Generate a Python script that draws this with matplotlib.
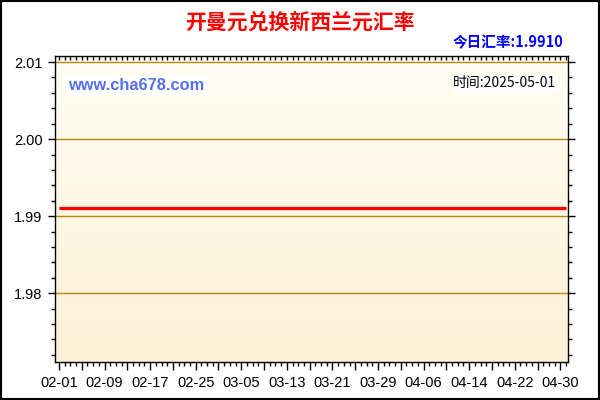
import numpy as np
import pandas as pd
import matplotlib
matplotlib.use('Agg')
import matplotlib.pyplot as plt
from matplotlib.patches import Rectangle

# daily OMR -> NZD rate, 2025-02-01 .. 2025-05-01
dates = pd.date_range('2025-02-01', '2025-05-01', freq='D')
rates = [
    1.991, 1.991, 1.991, 1.991, 1.991, 1.991, 1.991, 1.991, 1.991, 1.991,
    1.991, 1.991, 1.991, 1.991, 1.991, 1.991, 1.991, 1.991, 1.991, 1.991,
    1.991, 1.991, 1.991, 1.991, 1.991, 1.991, 1.991, 1.991, 1.991, 1.991,
    1.991, 1.991, 1.991, 1.991, 1.991, 1.991, 1.991, 1.991, 1.991, 1.991,
    1.991, 1.991, 1.991, 1.991, 1.991, 1.991, 1.991, 1.991, 1.991, 1.991,
    1.991, 1.991, 1.991, 1.991, 1.991, 1.991, 1.991, 1.991, 1.991, 1.991,
    1.991, 1.991, 1.991, 1.991, 1.991, 1.991, 1.991, 1.991, 1.991, 1.991,
    1.991, 1.991, 1.991, 1.991, 1.991, 1.991, 1.991, 1.991, 1.991, 1.991,
    1.991, 1.991, 1.991, 1.991, 1.991, 1.991, 1.991, 1.991, 1.991, 1.991,
]
y_ticks = [1.98, 1.99, 2.00, 2.01]
title = '开曼元兑换新西兰元汇率'
today_rate = '今日汇率:1.9910'
stamp = '时间:2025-05-01'
site = 'www.cha678.com'

cjk = ['Noto Sans CJK SC', 'DejaVu Sans']
plt.rcParams['font.family'] = ['Liberation Sans', 'DejaVu Sans']

fig = plt.figure(figsize=(6, 4), dpi=100)
ax = fig.add_axes([55 / 600, 38 / 400, 513 / 600, 306 / 400])

x = np.arange(len(dates))

# background gradient, light at the top
grad = np.linspace(0, 1, 256).reshape(-1, 1)
cmap = matplotlib.colors.LinearSegmentedColormap.from_list('bg', ['#fdf0d6', '#fffef4'])
ax.imshow(grad, cmap=cmap, aspect='auto', extent=[0, 1, 0, 1], origin='lower',
          transform=ax.transAxes, zorder=0)

for v in y_ticks:
    ax.axhline(v, color='#b8860b', lw=1, zorder=1)

ax.plot(x, rates, color='#ff0000', lw=2.3, zorder=3, solid_capstyle='butt')

ax.set_xlim(-0.7, 89.35)
ax.set_ylim(1.97108, 2.01078)

ax.set_yticks(y_ticks)
ax.set_yticklabels(['%.2f' % v for v in y_ticks])
ax.set_yticks(np.arange(1.972, 2.0105, 0.002), minor=True)
ax.tick_params(axis='y', which='both', left=True, right=True, direction='out',
               labelsize=10.5, pad=4)
ax.tick_params(axis='y', which='major', length=5, width=1)
ax.tick_params(axis='y', which='minor', length=3, width=1)

major_x = list(range(0, len(dates), 4))
ax.set_xticks(major_x)
ax.set_xticklabels([dates[i].strftime('%m-%d') if i % 8 == 0 else '' for i in major_x])
ax.set_xticks(x, minor=True)
ax.tick_params(axis='x', which='both', bottom=True, top=False, direction='out',
               labelsize=10.5, pad=4)
ax.tick_params(axis='x', which='major', length=6, width=1)
ax.tick_params(axis='x', which='minor', length=3, width=1)

top = ax.secondary_xaxis('top')
top.set_xticks(x)
top.set_xticklabels([])
top.tick_params(direction='in', length=3, width=1)
top.spines['top'].set_visible(False)

for s in ax.spines.values():
    s.set_color('black')
    s.set_linewidth(1)

ax.text(0.025, 0.902, site, transform=ax.transAxes, fontsize=11.8, fontweight='bold',
        color='#5470ee', va='center', ha='left', zorder=4,
        bbox=dict(facecolor='white', edgecolor='none', pad=1.5))
ax.text(0.977, 0.912, stamp, transform=ax.transAxes, fontsize=10, family=cjk,
        color='black', va='center', ha='right', zorder=4,
        bbox=dict(facecolor='white', edgecolor='none', pad=1))

fig.text(0.5, 1 - 22 / 400, title, family=cjk, fontsize=15, fontweight='bold',
         color='#ff0000', ha='center', va='center')
fig.text(563 / 600, 1 - 42 / 400, today_rate, family=cjk, fontsize=10.5,
         fontweight='bold', color='#0000ff', ha='right', va='center')

fig.patches.append(Rectangle((0.0015, 0.002), 0.997, 0.996, transform=fig.transFigure,
                             fill=False, edgecolor='black', lw=1.5, zorder=10))

fig.savefig('out.png', dpi=100, facecolor='white')
